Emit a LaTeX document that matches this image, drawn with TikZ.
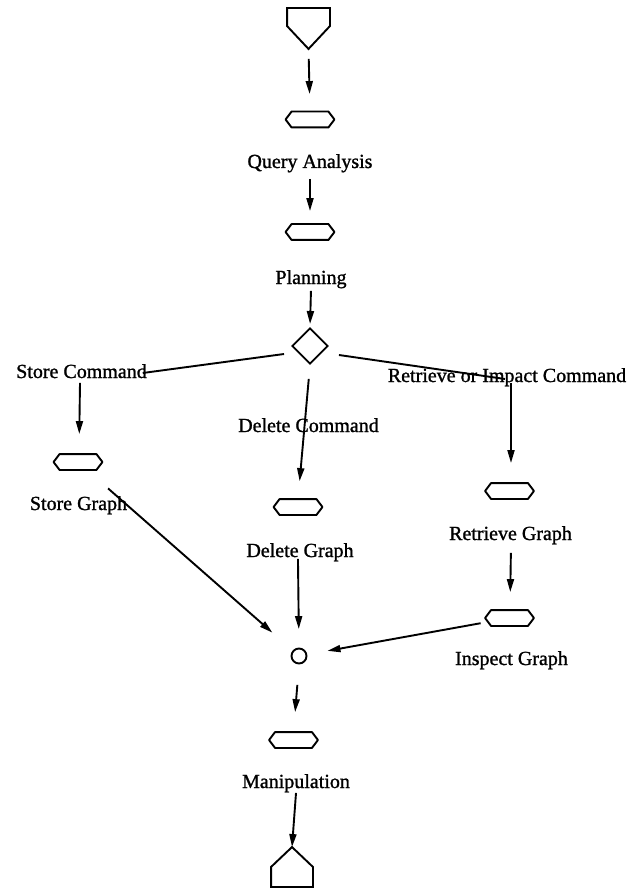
\documentclass[tikz,border=0pt]{standalone}
\usepackage{fontspec}
\setmainfont{Liberation Serif}[BoldFont={Liberation Serif},BoldFeatures={FakeBold=1.2}]
\usetikzlibrary{arrows.meta,shapes.geometric}
\begin{document}
\begin{tikzpicture}[x=1pt,y=-1pt,
  line width=1.9pt,
  every node/.style={inner sep=0pt},
  lbl/.style={font=\fontsize{20}{24}\selectfont\bfseries, text height=14pt, text depth=4pt},
  hexbox/.style={minimum width=47pt, minimum height=14pt},
  choice/.style={draw, diamond, minimum width=36pt, minimum height=36pt},
  joinpt/.style={draw, circle, minimum size=15pt},
  term/.style={minimum width=41pt, minimum height=39pt},
  arr/.style={-{Triangle[length=13pt,width=7pt]}},
  link/.style={}
]
\useasboundingbox (0,0) rectangle (635,890);

% entry terminal
\node[term] (start) at (308.5,28.5) {};
\draw (start.north west) -- (start.north east) -- ([yshift=-18pt]start.north east)
  -- (start.south) -- ([yshift=-18pt]start.north west) -- cycle;

% main column
\node[hexbox] (h1) at (310,119.5) {};
\node[lbl] (qa) at (310,163) {Query Analysis};
\node[hexbox] (h2) at (310,232) {};
\node[lbl] (plan) at (311,279) {Planning};
\node[choice] (dia) at (310,346) {};

% branch labels
\node[lbl] (sc) at (81.5,373) {Store Command};
\node[lbl] (dc) at (308.5,427) {Delete Command};
\node[lbl] (rc) at (507,377) {Retrieve or Impact Command};

% branch steps
\node[hexbox] (hs) at (78,462) {};
\node[lbl] (sg) at (78.5,505) {Store Graph};
\node[hexbox] (hd) at (298,507) {};
\node[lbl] (dg) at (300,552) {Delete Graph};
\node[hexbox] (hr) at (509.5,491) {};
\node[lbl] (rg) at (510.5,535) {Retrieve Graph};
\node[hexbox] (hi) at (509.5,618) {};
\node[lbl] (ig) at (511.5,660) {Inspect Graph};

% merge and final step
\node[joinpt] (join) at (299,656) {};
\node[hexbox] (hm) at (293.5,740) {};
\node[lbl] (mp) at (296,783) {Manipulation};

% exit terminal
\node[term, minimum width=40pt, minimum height=38pt] (end) at (292,867) {};
\draw (end.north) -- ([yshift=20pt]end.south east) -- (end.south east)
  -- (end.south west) -- ([yshift=20pt]end.south west) -- cycle;

% step outlines: flat hexagons
\foreach \n in {h1,h2,hs,hd,hr,hi,hm}
  \draw[line join=round] ([xshift=6pt]\n.north west) -- ([xshift=-6pt]\n.north east)
    -- (\n.east) -- ([xshift=-6pt]\n.south east) -- ([xshift=6pt]\n.south west)
    -- (\n.west) -- cycle;

% connectors
\draw[arr, shorten <=10pt, shorten >=17.5pt] (start.south) -- (h1.north);
\draw[arr, shorten <=6pt, shorten >=13pt] (qa.south) -- (h2.north);
\draw[arr, shorten <=2pt, shorten >=3pt] (plan.south) -- (dia.north);

\draw[link] ([shift={(-7,8)}]dia.west) -- ([xshift=-5]sc.east);
\draw[link] ([shift={(10,9)}]dia.east) -- ([shift={(-2,2)}]rc.center);
\draw[arr, shorten <=14pt, shorten >=18pt] (dia.south) -- (hd.north);

\draw[arr, shorten >=20pt] ([xshift=-1.5pt]sc.south) -- ([xshift=1pt]hs.north);
\draw[arr, shorten <=-4pt, shorten >=20pt] ([xshift=4pt]rc.south) -- ([xshift=1.5pt]hr.north);
\draw[arr, shorten <=8pt, shorten >=18pt] ([xshift=0.5pt]rg.south) -- ([xshift=0.5pt]hi.north);

\draw[arr, shorten <=28pt, shorten >=27pt] (hs) -- (join);
\draw[arr, shorten <=-3pt, shorten >=18.5pt] ([xshift=-2pt]dg.south) -- (join.north);
\draw[arr, shorten <=4.5pt, shorten >=20.5pt] (hi) -- (join);
\draw[arr, shorten <=20.5pt, shorten >=20pt] (join.south) -- (hm.north);
\draw[arr] (mp.south) -- (end.north);
\end{tikzpicture}
\end{document}
